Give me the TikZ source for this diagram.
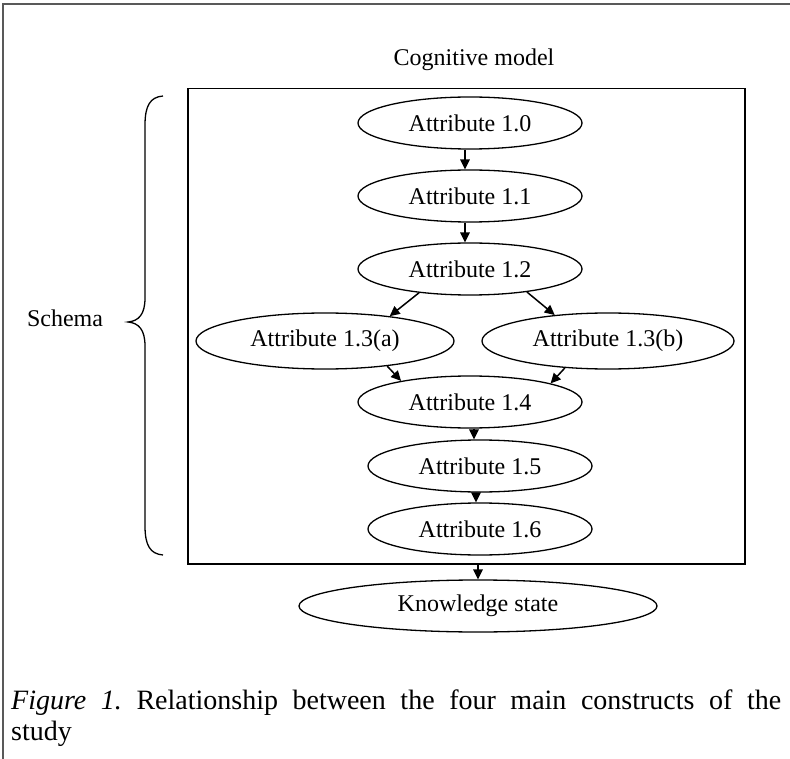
\documentclass[tikz,border=0pt]{standalone}
\usepackage{fontspec}
\setmainfont{Liberation Serif}
\frenchspacing
\usetikzlibrary{arrows.meta,shapes.geometric}
\begin{document}
\begin{tikzpicture}[x=1pt,y=-1pt,
  attr/.style={ellipse,draw,line width=1.3pt,inner sep=0pt,minimum width=224pt,minimum height=52pt,font=\fontsize{24}{28}\selectfont},
  arr/.style={line width=1.5pt,-{Triangle[length=10pt,width=9.5pt]}},
  lbl/.style={font=\fontsize{24}{28}\selectfont,inner sep=0pt}]
\useasboundingbox (0,0) rectangle (790,759);
\fill[white] (0,0) rectangle (790,759);
\draw[line width=2pt,black!65] (3,759) -- (3,4) -- (790,4);
\node[lbl,anchor=base] (title) at (474,66) {Cognitive model};
\node[draw,line width=1.5pt,minimum width=557pt,minimum height=475pt,inner sep=0pt,anchor=north west] (box) at (187,88) {};
\node[attr] (a10) at (470,123) {Attribute 1.0};
\node[attr] (a11) at (470,196) {Attribute 1.1};
\node[attr] (a12) at (470,269) {Attribute 1.2};
\node[attr,minimum width=258pt,minimum height=56pt] (a13a) at (325,341) {Attribute 1.3(a)};
\node[attr,minimum width=252pt,minimum height=56pt] (a13b) at (608,341) {Attribute 1.3(b)};
\node[attr] (a14) at (470,402) {Attribute 1.4};
\node[attr] (a15) at (480,466) {Attribute 1.5};
\node[attr] (a16) at (480,529) {Attribute 1.6};
\node[attr,minimum width=358pt] (ks) at (478,606) {Knowledge state};
\draw[arr] ([xshift=-5pt]a10.south) -- ([xshift=-5pt]a11.north);
\draw[arr] ([xshift=-5pt]a11.south) -- ([xshift=-5pt]a12.north);
\draw[arr] (a12.205) -- (a13a.21);
\draw[arr] (a12.338) -- (a13b.154);
\draw[arr] (a13a.338) -- (a14.163);
\draw[arr] (a13b.212) -- (a14.13);
\draw[arr] ([xshift=4pt]a14.south) -- ([xshift=-6pt]a15.north);
\draw[arr] ([xshift=-4pt]a15.south) -- ([xshift=-4pt]a16.north);
\draw[arr] (ks.north |- box.south) -- (ks.north);
\draw[line width=1.3pt] (163,96) .. controls (150,97) and (145,106) .. (145,125) -- (145,298) .. controls (145,314) and (139,321) .. (128,322) .. controls (139,323) and (145,330) .. (145,346) -- (145,526) .. controls (145,545) and (150,554) .. (163,555);
\node[lbl] (schema) at (65,318) {Schema};
\node[anchor=base west,text width=770pt,align=justify,inner sep=0pt,font=\fontsize{28}{31}\selectfont] (cap) at (11,709) {\textit{Figure 1.} Relationship between the four main constructs of the\linebreak study};
\end{tikzpicture}
\end{document}
